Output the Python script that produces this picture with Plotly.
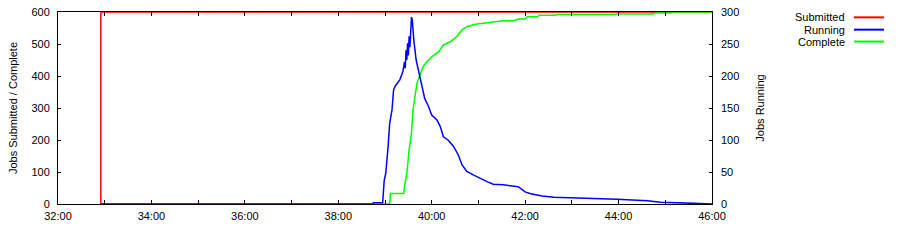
import plotly.graph_objects as go

BASE = "2000-01-01 00:"

# Submitted jobs (left axis)
submitted_t = ["32:55", "32:55", "46:00"]
submitted_v = [0, 600, 600]

# Running jobs (right axis)
running_t = ["32:55", "38:45", "38:45", "38:57", "38:59", "39:01", "39:04", "39:06", "39:09", "39:11",
             "39:13", "39:19", "39:23", "39:25", "39:26", "39:27", "39:28", "39:29", "39:30", "39:31",
             "39:32", "39:33", "39:34", "39:35", "39:36", "39:37", "39:40", "39:43", "39:47", "39:51",
             "39:56", "40:00", "40:07", "40:11", "40:15", "40:21", "40:28", "40:34", "40:39", "40:45",
             "40:54", "41:02", "41:11", "41:19", "41:32", "41:51", "42:00", "42:07", "42:22", "42:37",
             "43:28", "43:58", "44:37", "44:54", "45:37", "46:00"]
running_v = [0, 0, 2, 2, 37, 48, 90, 126, 147, 178,
             184, 194, 207, 222, 212, 240, 225, 251, 232, 262,
             245, 277, 292, 288, 270, 256, 225, 209, 186, 165,
             152, 139, 131, 121, 105, 100, 90, 77, 61, 51,
             45, 40, 35, 31, 30, 27, 19, 16, 12.5, 10.4,
             8.9, 7.3, 5.2, 2.6, 1, 0]

# Completed jobs (left axis)
complete_t = ["32:55", "39:06", "39:07", "39:24", "39:25", "39:28", "39:31", "39:34", "39:36", "39:39",
              "39:41", "39:44", "39:49", "39:54", "40:00", "40:09", "40:15", "40:24", "40:32", "40:39",
              "40:45", "40:56", "41:11", "41:32", "41:45", "41:51", "42:00", "42:03", "42:16", "42:18",
              "42:39", "42:41", "43:56", "43:58", "44:45", "44:47", "45:07", "45:09", "46:00"]
complete_v = [0, 0, 33, 33, 53, 96, 169, 221, 294, 346,
              377, 398, 429, 445, 460, 476, 497, 507, 523, 544,
              554, 562, 566, 573, 573, 578, 578, 585, 585, 590,
              590, 592, 592, 594, 594, 597, 597, 600, 600]

legend_names = ["Submitted", "Running", "Complete"]
colors = ["#ff0000", "#0000ff", "#00ff00"]

FONT = "Liberation Sans, Arial, sans-serif"

def ts(lst):
    return [BASE + t for t in lst]

fig = go.Figure()
fig.add_trace(go.Scatter(x=ts(submitted_t), y=submitted_v, mode="lines",
                         line=dict(color=colors[0], width=1.5), name=legend_names[0]))
fig.add_trace(go.Scatter(x=ts(running_t), y=running_v, mode="lines", yaxis="y2",
                         line=dict(color=colors[1], width=1.5), name=legend_names[1]))
fig.add_trace(go.Scatter(x=ts(complete_t), y=complete_v, mode="lines",
                         line=dict(color=colors[2], width=1.5), name=legend_names[2]))

fig.update_layout(
    width=900, height=252,
    margin=dict(l=58, r=188, t=12, b=48, autoexpand=False),
    paper_bgcolor="white", plot_bgcolor="white",
    showlegend=False,
    font=dict(family=FONT, size=11, color="black"),
    xaxis=dict(
        type="date", range=[BASE + "32:00", BASE + "46:00"],
        tick0=BASE + "32:00", dtick=120000, tickformat="%M:%S",
        ticks="inside", ticklen=4, tickcolor="black", tickwidth=1,
        minor=dict(dtick=60000, ticks="inside", ticklen=2, tickcolor="black"),
        showline=True, linecolor="black", linewidth=1, mirror="allticks",
        showgrid=False, zeroline=False, ticklabelstandoff=2, automargin=False,
        tickfont=dict(size=11),
    ),
    yaxis=dict(
        range=[0, 600], dtick=100, ticks="inside", ticklen=3, tickcolor="black",
        showline=True, linecolor="black", linewidth=1, mirror=True,
        showgrid=False, zeroline=False, ticklabelstandoff=5, automargin=False,
        title=dict(text="Jobs Submitted / Complete", standoff=11, font=dict(size=11)),
    ),
    yaxis2=dict(
        range=[0, 300], dtick=50, overlaying="y", side="right",
        ticks="inside", ticklen=3, tickcolor="black", automargin=False,
        showline=False, showgrid=False, zeroline=False, ticklabelstandoff=8,
        title=dict(text="Jobs Running", standoff=17, font=dict(size=11)),
    ),
)

# gnuplot-style key: label text on the left, line sample on the right
ys = [0.972, 0.908, 0.846]
for name, col, yy in zip(legend_names, colors, ys):
    fig.add_annotation(xref="paper", yref="paper", x=1.206, y=yy, text=name,
                       showarrow=False, xanchor="right", yanchor="middle",
                       font=dict(size=11, color="black"))
    fig.add_shape(type="line", xref="paper", yref="paper", x0=1.217, x1=1.263,
                  y0=yy, y1=yy, line=dict(color=col, width=2))

fig.write_html("out.html")
